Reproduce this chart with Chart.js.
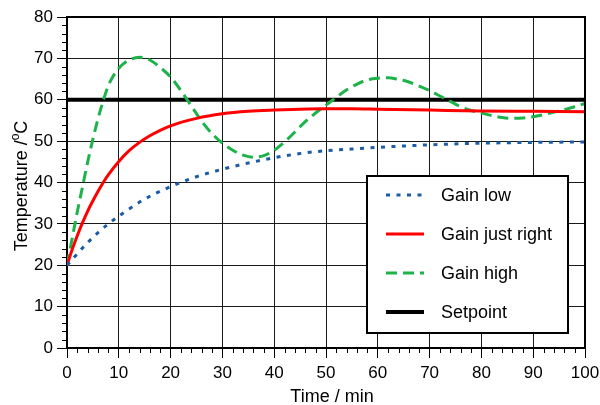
<!DOCTYPE html>
<html>
<head>
<meta charset="utf-8">
<script src="https://cdn.jsdelivr.net/npm/chart.js@4/dist/chart.umd.min.js"></script>
<style>
html,body{margin:0;padding:0;background:#fff;}
#wrap{width:600px;height:405px;position:relative;}
</style>
</head>
<body>
<div id="wrap"><canvas id="c"></canvas></div>
<script>
// ---- data ----
const seriesNames = ["Gain low", "Gain just right", "Gain high", "Setpoint"];

const lowTimes = [0, 2, 4, 6, 8, 10, 12, 15, 20, 25, 30, 35, 40, 45, 50, 55, 60, 70, 80, 90, 100];
const lowTemps = [20, 22.8, 25.5, 27.9, 30, 31.9, 33.6, 36.0, 39.0, 41.4, 43.2, 44.7, 46, 47, 47.7, 48.1, 48.5, 49.1, 49.5, 49.7, 49.8];

const rightTimes = [0, 1, 2, 3, 4, 5, 6, 7, 8, 10, 12, 14, 16, 18, 20, 25, 30, 35, 40, 45, 50, 55, 60, 70, 80, 90, 100];
const rightTemps = [20, 23.8, 27.2, 30.3, 33.1, 35.6, 37.9, 40.0, 41.9, 45.1, 47.7, 49.7, 51.3, 52.6, 53.7, 55.5, 56.6, 57.2, 57.5, 57.7, 57.8, 57.8, 57.7, 57.5, 57.3, 57.2, 57.1];

const highTimes = [0, 1, 2, 3, 4, 5, 6, 7, 8, 10, 12, 14, 16, 18, 20, 22, 24, 26, 28, 30, 32, 34, 36, 38, 40, 42, 44, 46, 48, 50, 52, 54, 56, 58, 60, 62, 64, 66, 68, 70, 72, 74, 76, 78, 80, 82, 84, 86, 88, 90, 92, 94, 96, 98, 100];
const highTemps = [20, 26.5, 33, 39, 45, 50.5, 55.5, 59.8, 63.5, 67.6, 69.6, 70.3, 69.6, 67.8, 65.5, 62.2, 58.5, 54.8, 51.8, 49.5, 47.8, 46.6, 46.1, 46.5, 47.8, 49.8, 52.2, 54.7, 56.8, 58.7, 60.6, 62.4, 63.8, 64.8, 65.2, 65.3, 64.9, 64.3, 63.3, 62.2, 60.9, 59.6, 58.3, 57.4, 56.8, 56.2, 55.7, 55.5, 55.6, 55.9, 56.4, 57, 57.6, 58.3, 59.1];

const setTimes = [0, 100];
const setTemps = [60, 60];

const xTicks = [0, 10, 20, 30, 40, 50, 60, 70, 80, 90, 100];
const yTicks = [0, 10, 20, 30, 40, 50, 60, 70, 80];

function pts(t, v) { return t.map((x, i) => ({x: x, y: v[i]})); }

const FONT = "'Liberation Sans', Arial, sans-serif";
const isMajor = v => Math.abs(v % 10) < 1e-6;

const styles = [
  {color: '#1a5ca6', width: 3, dash: [4, 6.5]},
  {color: '#ff0000', width: 3, dash: []},
  {color: '#1db34a', width: 3, dash: [11, 6]},
  {color: '#000000', width: 4, dash: []}
];

const datasets = [
  pts(lowTimes, lowTemps), pts(rightTimes, rightTemps), pts(highTimes, highTemps), pts(setTimes, setTemps)
].map((d, i) => ({
  label: seriesNames[i],
  data: d,
  borderColor: styles[i].color,
  backgroundColor: styles[i].color,
  borderWidth: styles[i].width,
  borderDash: styles[i].dash,
  pointRadius: 0,
  fill: false,
  cubicInterpolationMode: 'monotone'
}));

const decor = {
  id: 'decor',
  afterDraw(chart) {
    const ctx = chart.ctx, a = chart.chartArea;
    const xs = chart.scales.x, ys = chart.scales.y;
    ctx.save();
    // minor ticks
    ctx.strokeStyle = '#000'; ctx.lineWidth = 1;
    for (let v = 0; v <= 100; v += 2) {
      if (isMajor(v)) continue;
      const px = Math.round(xs.getPixelForValue(v)) + 0.5;
      ctx.beginPath(); ctx.moveTo(px, a.bottom); ctx.lineTo(px, a.bottom + 5); ctx.stroke();
    }
    for (let v = 0; v <= 80; v += 2) {
      if (isMajor(v)) continue;
      const py = Math.round(ys.getPixelForValue(v)) + 0.5;
      ctx.beginPath(); ctx.moveTo(a.left - 5, py); ctx.lineTo(a.left, py); ctx.stroke();
    }
    // frame top / right
    ctx.lineWidth = 2;
    ctx.beginPath();
    ctx.moveTo(a.left, a.top); ctx.lineTo(a.right, a.top); ctx.lineTo(a.right, a.bottom);
    ctx.stroke();

    // axis titles
    ctx.fillStyle = '#000';
    ctx.font = '18px ' + FONT;
    ctx.textAlign = 'center'; ctx.textBaseline = 'middle';
    ctx.fillText('Time / min', 332, 397);

    // y title with superscript o
    const t1 = 'Temperature /', sup = 'o', t2 = 'C';
    ctx.font = '18px ' + FONT;
    const w1 = ctx.measureText(t1).width, w3 = ctx.measureText(t2).width;
    ctx.font = '12px ' + FONT;
    const w2 = ctx.measureText(sup).width;
    const total = w1 + w2 + w3;
    ctx.translate(21, 186);
    ctx.rotate(-Math.PI / 2);
    ctx.textAlign = 'left'; ctx.textBaseline = 'alphabetic';
    let x0 = -total / 2;
    ctx.font = '18px ' + FONT;
    ctx.fillText(t1, x0, 6);
    ctx.font = '12px ' + FONT;
    ctx.fillText(sup, x0 + w1, -2);
    ctx.font = '18px ' + FONT;
    ctx.fillText(t2, x0 + w1 + w2, 6);
    ctx.restore();

    // legend box
    ctx.save();
    const bx = 367, by = 176, bw = 201, bh = 157;
    ctx.fillStyle = '#fff';
    ctx.fillRect(bx, by, bw, bh);
    ctx.strokeStyle = '#000'; ctx.lineWidth = 2;
    ctx.strokeRect(bx, by, bw, bh);
    const rows = [195, 234, 273, 312];
    chart.data.datasets.forEach((ds, i) => {
      const y = rows[i];
      ctx.strokeStyle = ds.borderColor;
      ctx.lineWidth = ds.borderWidth;
      ctx.setLineDash(ds.borderDash);
      ctx.beginPath(); ctx.moveTo(386, y); ctx.lineTo(424, y); ctx.stroke();
      ctx.setLineDash([]);
      ctx.fillStyle = '#000';
      ctx.font = '18px ' + FONT;
      ctx.textAlign = 'left'; ctx.textBaseline = 'middle';
      ctx.fillText(ds.label, 441, y + 1);
    });
    ctx.restore();
  }
};

new Chart(document.getElementById('c'), {
  type: 'line',
  data: {datasets: datasets},
  plugins: [decor],
  options: {
    responsive: true,
    maintainAspectRatio: false,
    animation: false,
    layout: {padding: {left: 0, right: 15, top: 17, bottom: 0}},
    plugins: {legend: {display: false}, tooltip: {enabled: false}},
    scales: {
      x: {
        type: 'linear', min: 0, max: 100,
        afterFit: s => { s.height = 57; s.paddingLeft = 0; s.paddingRight = 0; },
        ticks: {
          stepSize: 2, autoSkip: false, maxRotation: 0, padding: 5,
          color: '#000', font: {family: FONT, size: 17},
          callback: v => (xTicks.includes(v) ? String(v) : '')
        },
        grid: {
          color: c => (c.tick && isMajor(c.tick.value) ? '#1a1a1a' : 'rgba(0,0,0,0)'),
          tickColor: c => (c.tick && isMajor(c.tick.value) ? '#000' : 'rgba(0,0,0,0)'),
          tickLength: 10, lineWidth: 1
        },
        border: {color: '#000', width: 2}
      },
      y: {
        type: 'linear', min: 0, max: 80,
        afterFit: s => { s.width = 67; s.paddingTop = 0; s.paddingBottom = 0; },
        ticks: {
          stepSize: 2, autoSkip: false, padding: 4,
          color: '#000', font: {family: FONT, size: 17},
          callback: v => (yTicks.includes(v) ? String(v) : '')
        },
        grid: {
          color: c => (c.tick && isMajor(c.tick.value) ? '#1a1a1a' : 'rgba(0,0,0,0)'),
          tickColor: c => (c.tick && isMajor(c.tick.value) ? '#000' : 'rgba(0,0,0,0)'),
          tickLength: 10, lineWidth: 1
        },
        border: {color: '#000', width: 2}
      }
    }
  }
});
</script>
</body>
</html>
